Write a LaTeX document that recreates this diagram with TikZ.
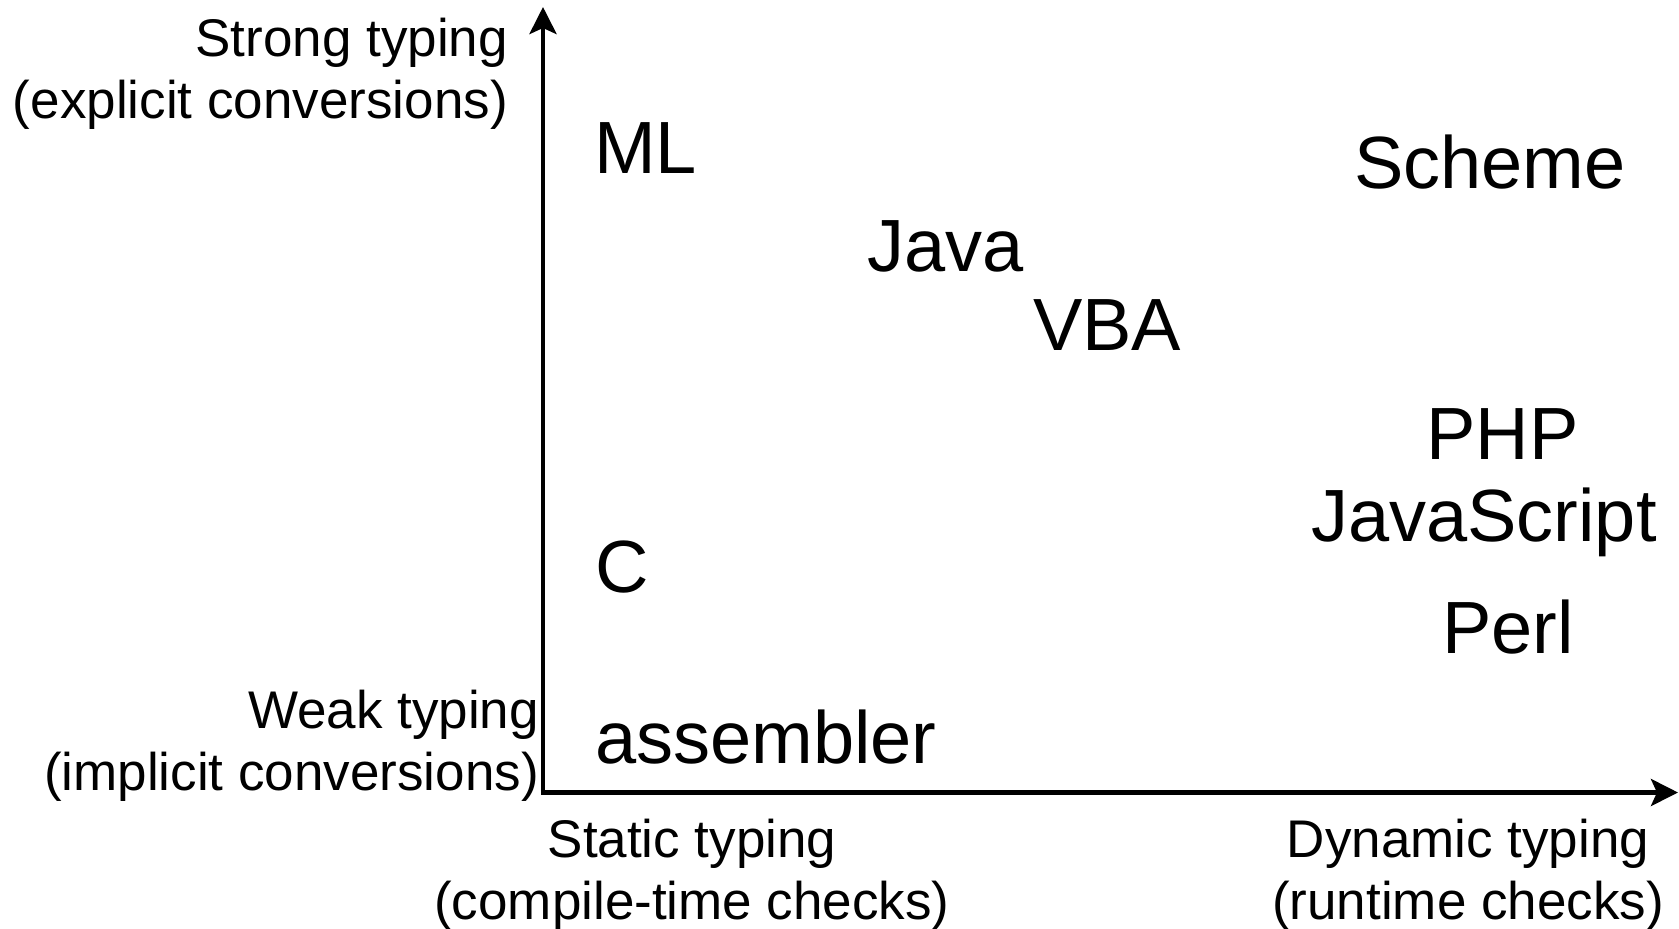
\documentclass[tikz,border=0pt]{standalone}
\usepackage{fontspec}
\setmainfont{Liberation Sans}
\usetikzlibrary{arrows.meta}
\tikzset{
  axis/.style={line width=4.5pt,-{Stealth[length=27pt,width=27pt,inset=6pt]}},
  axlabel/.style={inner sep=0pt,font=\fontsize{53}{62}\selectfont},
  lang/.style={inner sep=0pt,anchor=base west,font=\fontsize{74}{80}\selectfont}
}
\begin{document}
\begin{tikzpicture}[x=1pt,y=-1pt]
\useasboundingbox (0,0) rectangle (1679,929);
\coordinate (origin) at (543,792.5);
\coordinate (ytip) at (543,7);
\coordinate (xtip) at (1678,792.5);
\draw[axis] ([yshift=-2.25pt]origin) -- (ytip);
\draw[axis] ([xshift=-2.25pt]origin) -- (xtip);
% axis labels
\node[axlabel,anchor=base east] (strong1) at (508,56) {Strong typing};
\node[axlabel,anchor=base east] (strong2) at (508,118) {(explicit conversions)};
\node[axlabel,anchor=base east] (weak1) at (539,728) {Weak typing};
\node[axlabel,anchor=base east] (weak2) at (539,790) {(implicit conversions)};
\node[axlabel,anchor=base] (static1) at (692,857) {Static typing};
\node[axlabel,anchor=base] (static2) at (692,919) {(compile-time checks)};
\node[axlabel,anchor=base] (dyn1) at (1468,857) {Dynamic typing};
\node[axlabel,anchor=base] (dyn2) at (1468,919) {(runtime checks)};
% languages
\node[lang] (ml) at (594,173) {ML};
\node[lang] (scheme) at (1354,188) {Scheme};
\node[lang] (java) at (867,271) {Java};
\node[lang] (vba) at (1033,350) {VBA};
\node[lang] (php) at (1426,459) {PHP};
\node[lang] (js) at (1311,541) {JavaScript};
\node[lang] (c) at (595,592) {C};
\node[lang] (perl) at (1442,653) {Perl};
\node[lang] (asm) at (595,763) {assembler};
\end{tikzpicture}
\end{document}
